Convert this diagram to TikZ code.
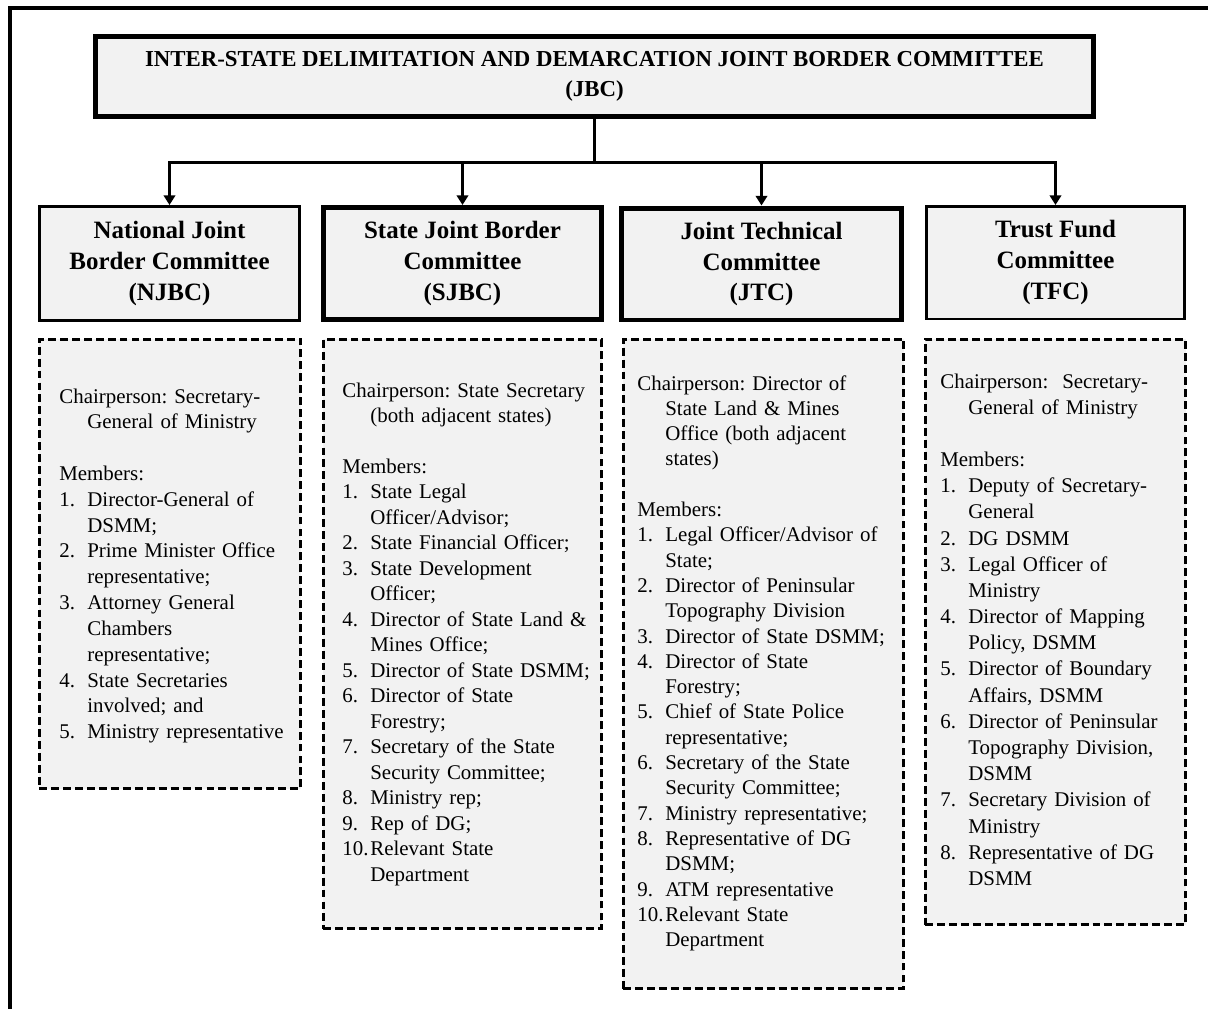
\documentclass[tikz,border=0pt]{standalone}
\usepackage{fontspec}
\setmainfont{Liberation Serif}
\usetikzlibrary{arrows.meta}
\frenchspacing
\definecolor{boxfill}{HTML}{F2F2F2}
\newcommand{\mitem}[2]% number, text
{\makebox[1.34em][l]{#1}#2}
\newcommand{\mcont}[1]% continued line
{\hspace*{1.34em}#1}
\tikzset{
  headbox/.style={draw,fill=boxfill,align=center,inner sep=0pt,
    font=\fontsize{14.2}{17.6}\selectfont\bfseries},
  thinbox/.style={headbox,line width=0.05cm,minimum height=2.29cm},
  thickbox/.style={headbox,line width=0.1cm,minimum height=2.24cm},
  listbox/.style={draw,fill=boxfill,line width=0.05cm,inner sep=0pt,
    dash pattern=on 4.5pt off 2.3pt},
  listtext/.style={anchor=base west,inner sep=0pt,text width=5.2cm,align=left,
    font=\fontsize{11.9}{14.6}\selectfont},
  link/.style={line width=0.06cm},
  arrow/.style={link,-{Triangle[length=5.5pt,width=6.5pt]}}
}

\begin{document}
\begin{tikzpicture}[x=0.02cm,y=-0.02cm]
  \useasboundingbox (0,0) rectangle (1208,1009);
  % page frame
  \draw[line width=0.07cm] (1208,8) -- (10,8) -- (10,1009);
  % top committee
  \node[headbox,line width=0.1cm,minimum width=19.96cm,minimum height=1.6cm,
    font=\fontsize{13}{17}\selectfont\bfseries] (jbc) at (594.5,76)
    {INTER-STATE DELIMITATION AND DEMARCATION JOINT BORDER COMMITTEE\\(JBC)};
  % sub-committees
  \node[thinbox,minimum width=5.21cm] (njbc) at (169.5,263.5) {National Joint\\Border Committee\\(NJBC)};
  \node[thickbox,minimum width=5.56cm] (sjbc) at (462.5,263.5) {State Joint Border\\Committee\\(SJBC)};
  \node[thickbox,minimum width=5.6cm] (jtc) at (761.5,264) {Joint Technical\\Committee\\(JTC)};
  \node[thinbox,minimum width=5.17cm,minimum height=2.25cm] (tfc) at (1055.5,262.5) {Trust Fund\\Committee\\(TFC)};
  \coordinate (bus) at (594.5,162);
  \draw[link] (jbc.south) -- (bus);
  \foreach \c in {njbc,sjbc,jtc,tfc}
    \draw[arrow] (bus) -| (\c.north);
  % member lists
  \node[listbox,minimum width=5.23cm,minimum height=8.99cm] (njbcl) at (170,564) {};
  \node[listbox,minimum width=5.57cm,minimum height=11.79cm] (sjbcl) at (462.5,634) {};
  \node[listbox,minimum width=5.61cm,minimum height=12.99cm] (jtcl) at (763.5,664) {};
  \node[listbox,minimum width=5.21cm,minimum height=11.71cm] (tfcl) at (1055.5,632) {};
  \node[listtext,font=\fontsize{11.9}{14.7}\selectfont] (njbct) at (59,403) {%
    Chairperson: Secretary-\\
    \mcont{General of Ministry}\\[\baselineskip]
    Members:\\
    \mitem{1.}{Director-General of}\\
    \mcont{DSMM;}\\
    \mitem{2.}{Prime Minister Office}\\
    \mcont{representative;}\\
    \mitem{3.}{Attorney General}\\
    \mcont{Chambers}\\
    \mcont{representative;}\\
    \mitem{4.}{State Secretaries}\\
    \mcont{involved; and}\\
    \mitem{5.}{Ministry representative}};
  \node[listtext,font=\fontsize{11.9}{14.5}\selectfont] (sjbct) at (342,397) {%
    Chairperson: State Secretary\\
    \mcont{(both adjacent states)}\\[\baselineskip]
    Members:\\
    \mitem{1.}{State Legal}\\
    \mcont{Officer/Advisor;}\\
    \mitem{2.}{State Financial Officer;}\\
    \mitem{3.}{State Development}\\
    \mcont{Officer;}\\
    \mitem{4.}{Director of State Land \&}\\
    \mcont{Mines Office;}\\
    \mitem{5.}{Director of State DSMM;}\\
    \mitem{6.}{Director of State}\\
    \mcont{Forestry;}\\
    \mitem{7.}{Secretary of the State}\\
    \mcont{Security Committee;}\\
    \mitem{8.}{Ministry rep;}\\
    \mitem{9.}{Rep of DG;}\\
    \mitem{10.}{Relevant State}\\
    \mcont{Department}};
  \node[listtext,font=\fontsize{11.9}{14.4}\selectfont] (jtct) at (637,390) {%
    Chairperson: Director of\\
    \mcont{State Land \& Mines}\\
    \mcont{Office (both adjacent}\\
    \mcont{states)}\\[\baselineskip]
    Members:\\
    \mitem{1.}{Legal Officer/Advisor of}\\
    \mcont{State;}\\
    \mitem{2.}{Director of Peninsular}\\
    \mcont{Topography Division}\\
    \mitem{3.}{Director of State DSMM;}\\
    \mitem{4.}{Director of State}\\
    \mcont{Forestry;}\\
    \mitem{5.}{Chief of State Police}\\
    \mcont{representative;}\\
    \mitem{6.}{Secretary of the State}\\
    \mcont{Security Committee;}\\
    \mitem{7.}{Ministry representative;}\\
    \mitem{8.}{Representative of DG}\\
    \mcont{DSMM;}\\
    \mitem{9.}{ATM representative}\\
    \mitem{10.}{Relevant State}\\
    \mcont{Department}};
  \node[listtext,font=\fontsize{11.9}{14.9}\selectfont] (tfct) at (940,388) {%
    Chairperson:\ \ Secretary-\\
    \mcont{General of Ministry}\\[\baselineskip]
    Members:\\
    \mitem{1.}{Deputy of Secretary-}\\
    \mcont{General}\\
    \mitem{2.}{DG DSMM}\\
    \mitem{3.}{Legal Officer of}\\
    \mcont{Ministry}\\
    \mitem{4.}{Director of Mapping}\\
    \mcont{Policy, DSMM}\\
    \mitem{5.}{Director of Boundary}\\
    \mcont{Affairs, DSMM}\\
    \mitem{6.}{Director of Peninsular}\\
    \mcont{Topography Division,}\\
    \mcont{DSMM}\\
    \mitem{7.}{Secretary Division of}\\
    \mcont{Ministry}\\
    \mitem{8.}{Representative of DG}\\
    \mcont{DSMM}};
\end{tikzpicture}
\end{document}
